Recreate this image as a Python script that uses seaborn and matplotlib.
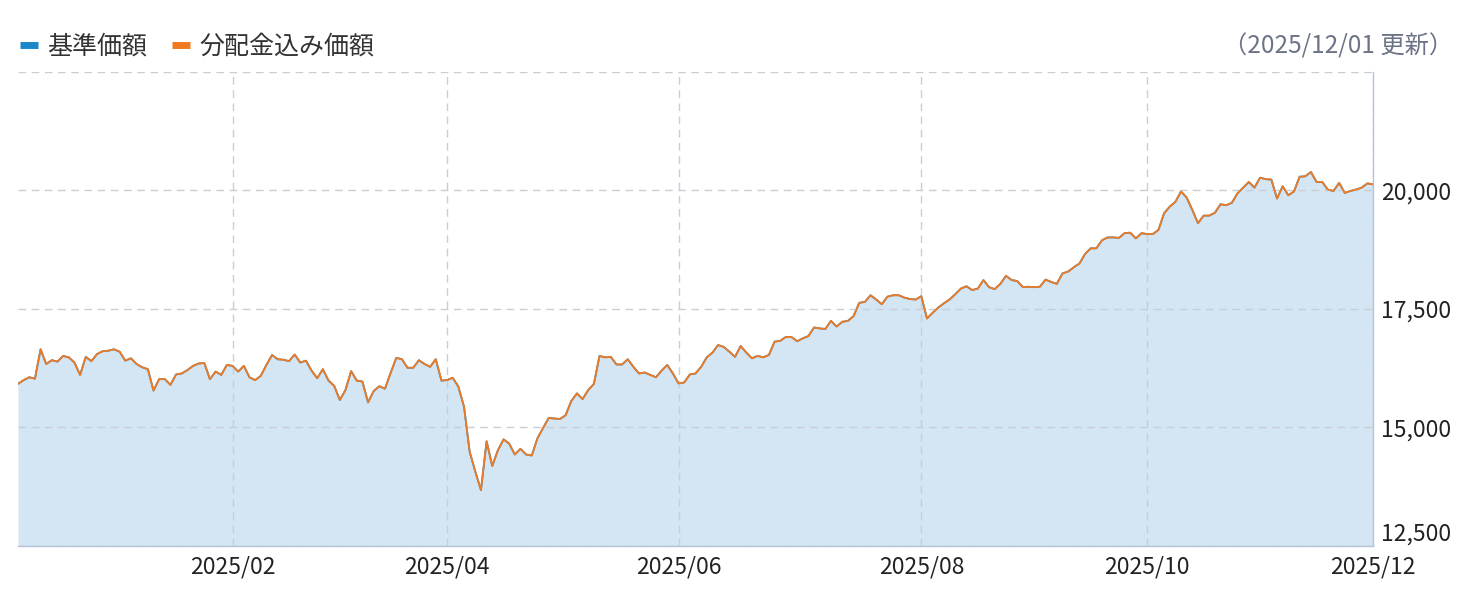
import pandas as pd
import seaborn as sns
import matplotlib.pyplot as plt
from matplotlib.lines import Line2D

# trading days (Tokyo market + fund holidays)
start_date = '2024-12-03'
end_date = '2025-12-01'
holidays = ['2024-12-25', '2024-12-31', '2025-01-01', '2025-01-02', '2025-01-03',
            '2025-01-13', '2025-02-11', '2025-02-24', '2025-03-20', '2025-04-29',
            '2025-05-05', '2025-05-06', '2025-07-21', '2025-08-11', '2025-09-15',
            '2025-09-23', '2025-10-13', '2025-11-03', '2025-11-24']

# 基準価額 (yen)
nav_values = [
    15920, 16000, 16060, 16030, 16650, 16340, 16420, 16390, 16510, 16480,
    16370, 16110, 16490, 16400, 16550, 16610, 16620, 16650, 16600, 16410,
    16460, 16340, 16270, 16230, 15780, 16020, 16020, 15900, 16120, 16140,
    16210, 16300, 16350, 16360, 16020, 16180, 16110, 16320, 16300, 16180,
    16300, 16060,
    16000, 16090, 16320, 16530, 16440, 16430, 16400, 16540, 16370, 16410,
    16200, 16040, 16230, 15990, 15880, 15580, 15790, 16190, 15990, 15970,
    15530, 15770, 15870, 15820, 16150, 16470, 16440, 16260, 16260, 16420,
    16340, 16280, 16440, 15990, 16000, 16050, 15860, 15440, 14490, 14070,
    13680, 14710, 14190, 14520, 14750, 14660, 14430, 14550, 14430, 14410,
    14770, 14990, 15200, 15190, 15180, 15260, 15560, 15720, 15600, 15790,
    15920, 16510, 16480, 16490, 16330, 16330, 16440, 16280, 16140, 16160,
    16110, 16060, 16200, 16320, 16140, 15930, 15950, 16120,
    16140, 16280, 16480, 16580, 16740, 16700, 16600, 16490, 16720, 16580,
    16460, 16510, 16480, 16530, 16810, 16830, 16910, 16910, 16820, 16880,
    16930, 17110, 17090, 17080, 17250, 17130, 17230, 17250, 17350, 17630,
    17650, 17790, 17700, 17600, 17760, 17790, 17790, 17740, 17710, 17700,
    17770, 17300,
    17420, 17530, 17620, 17700, 17810, 17930, 17980, 17900, 17930, 18110,
    17960, 17920, 18030, 18200, 18110, 18090, 17960, 17970, 17960, 17970,
    18120, 18070, 18030, 18250, 18290, 18380, 18460, 18660, 18780, 18780,
    18950, 19010, 19010, 19000, 19100, 19110, 18990,
    19100, 19080, 19080, 19170, 19520, 19660, 19760, 19980, 19850, 19590,
    19310, 19470, 19470, 19530, 19710, 19690, 19740, 19940, 20060, 20180,
    20060, 20270, 20240, 20230, 19830, 20090, 19900, 19980, 20290, 20300,
    20390, 20180, 20180, 20020, 19990, 20160, 19950, 19990, 20020, 20060,
    20150, 20130,
]
# 分配金込み価額 - no distributions paid, so it matches the NAV
total_return_values = list(nav_values)

tick_months = [2, 4, 6, 8, 10, 12]
y_ticks = [12500, 15000, 17500, 20000, 22500]
updated_text = '（2025/12/01 更新）'

dates = pd.bdate_range(start_date, end_date, freq='C', holidays=holidays)
assert len(dates) == len(nav_values)
df = pd.DataFrame({'date': dates, 'nav': nav_values, 'total': total_return_values})
df['i'] = range(len(df))

sns.set_theme(style='white')
plt.rcParams['font.family'] = ['Noto Sans CJK JP', 'DejaVu Sans']

blue = '#1a87c9'
orange = '#f07a22'
fill = '#d4e5f3'
grid_c = '#c8cdd6'
spine_c = '#b4c4d8'

fig = plt.figure(figsize=(14.7, 6), dpi=100)
ax = fig.add_axes([18 / 1470, 1 - 546 / 600, (1373 - 18) / 1470, (546 - 72) / 600])

ax.fill_between(df['i'], df['nav'], 12500, color=fill, lw=0, zorder=1)
sns.lineplot(data=df, x='i', y='nav', color=blue, lw=1.3, ax=ax, zorder=2)
sns.lineplot(data=df, x='i', y='total', color=orange, lw=1.3, ax=ax, zorder=3)

# first trading day of each labelled month
tick_pos, tick_lab = [], []
for m in tick_months:
    sub = df[(df['date'].dt.year == 2025) & (df['date'].dt.month == m)]
    tick_pos.append(sub['i'].iloc[0])
    tick_lab.append(f'2025/{m:02d}')

ax.set_xlim(0, len(df) - 1)
ax.set_ylim(y_ticks[0], y_ticks[-1])
ax.set_xticks(tick_pos, tick_lab)
ax.set_yticks(y_ticks, [f'{v:,}' if v < y_ticks[-1] else '' for v in y_ticks])
ax.set_xlabel('')
ax.set_ylabel('')

ax.grid(True, color=grid_c, lw=1.0, linestyle=(0, (5.5, 4)), zorder=0)
ax.set_axisbelow(False)
for gl in ax.get_xgridlines() + ax.get_ygridlines():
    gl.set_zorder(1.5)

ax.yaxis.tick_right()
ax.tick_params(axis='both', length=0, labelsize=16.5, labelcolor='#222222')
ax.tick_params(axis='y', pad=6)
ax.tick_params(axis='x', pad=7)
# lowest label sits just above the bottom edge
ax.get_yticklabels()[0].set_verticalalignment('bottom')
for side in ['top', 'left']:
    ax.spines[side].set_visible(False)
for side in ['bottom', 'right']:
    ax.spines[side].set_color(spine_c)
    ax.spines[side].set_linewidth(1.0)

handles = [Line2D([], [], color=blue, lw=5, solid_capstyle='butt'),
           Line2D([], [], color=orange, lw=5, solid_capstyle='butt')]
fig.legend(handles, ['基準価額', '分配金込み価額'], loc='center left',
           bbox_to_anchor=(20 / 1470, 1 - 47 / 600), ncol=2, frameon=False,
           fontsize=18, handlelength=0.72, handletextpad=0.36,
           columnspacing=1.0, borderpad=0, borderaxespad=0,
           labelcolor='#333333')
fig.text(1453 / 1470, 1 - 47 / 600, updated_text, ha='right', va='center',
         fontsize=17.5, color='#6b7385')

fig.savefig('out.png', dpi=100)
